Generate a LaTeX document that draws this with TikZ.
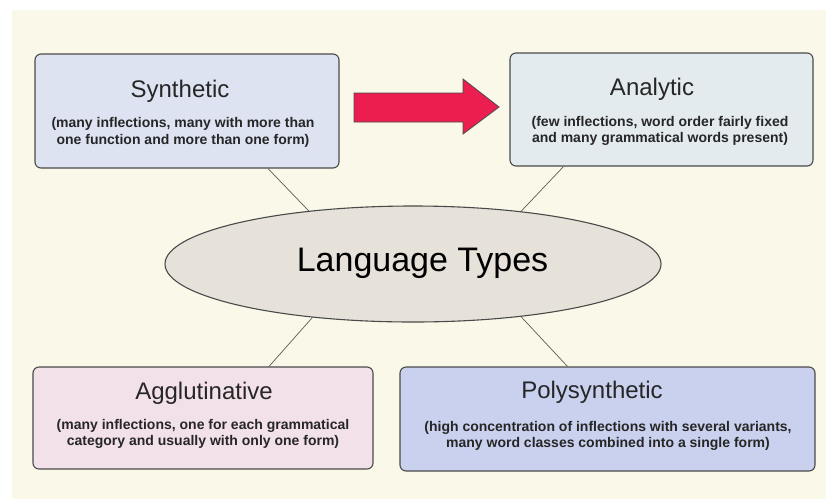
\documentclass[tikz,border=0pt]{standalone}
\usepackage{fontspec}
\setmainfont{Liberation Sans}
\usetikzlibrary{shapes.geometric}
\definecolor{bgcream}{HTML}{FAF8E8}
\definecolor{synfill}{HTML}{DDE3F1}
\definecolor{anafill}{HTML}{E3EBEE}
\definecolor{aggfill}{HTML}{F3E1EA}
\definecolor{polyfill}{HTML}{C9D1EE}
\definecolor{ellfill}{HTML}{E6E1D9}
\definecolor{arrowred}{HTML}{EC1E50}
\definecolor{edge}{HTML}{4A4A4A}
\tikzset{
  typebox/.style={draw=edge, line width=1.1pt, rounded corners=6pt, inner sep=0pt},
  typetitle/.style={font=\fontsize{24}{28}\selectfont, text=black!85, inner sep=0pt},
  typenote/.style={font=\bfseries\fontsize{14}{16.5}\selectfont, text=black!85, align=center, inner sep=0pt},
  link/.style={draw=edge!90, line width=0.7pt}
}
\begin{document}
\begin{tikzpicture}[x=1pt,y=-1pt]
\useasboundingbox (0,0) rectangle (826,499);
\fill[white] (0,0) rectangle (826,499);
\fill[bgcream] (12,10) rectangle (826,499);

% the four language types
\node[typebox, fill=synfill, minimum width=304pt, minimum height=114pt] (syn) at (187,111) {};
\node[typebox, fill=anafill, minimum width=303pt, minimum height=113pt] (ana) at (661.5,109.5) {};
\node[typebox, fill=aggfill, minimum width=340pt, minimum height=102pt] (agg) at (203,418) {};
\node[typebox, fill=polyfill, minimum width=415pt, minimum height=104pt] (poly) at (607.5,419) {};

\node[typetitle] (synT) at (180,91) {Synthetic};
\node[typenote] (synN) at (183,132.5) {(many inflections, many with more than\\one function and more than one form)};
\node[typetitle] (anaT) at (652,89) {Analytic};
\node[typenote] (anaN) at (660,131) {(few inflections, word order fairly fixed\\and many grammatical words present)};
\node[typetitle] (aggT) at (204,393) {Agglutinative};
\node[typenote] (aggN) at (203,434) {(many inflections, one for each grammatical\\category and usually with only one form)};
\node[typetitle] (polyT) at (592,392.5) {Polysynthetic};
\node[typenote] (polyN) at (608,436) {(high concentration of inflections with several variants,\\many word classes combined into a single form)};

% central ellipse and its label
\node[ellipse, draw=edge, line width=1.1pt, fill=ellfill, minimum width=496pt, minimum height=116pt, inner sep=0pt] (lt) at (413,264) {};
\node[inner sep=0pt, font=\fontsize{34}{40}\selectfont] (ltT) at (422.5,263.5) {Language Types};

% connectors
\draw[link] ([xshift=81pt]syn.south) -- (lt.153);
\draw[link] ([xshift=-98pt]ana.south) -- (lt.26);
\draw[link] ([xshift=66pt]agg.north) -- (lt.208);
\draw[link] ([xshift=-40pt]poly.north) -- (lt.334);

% red block arrow from Synthetic to Analytic
\filldraw[fill=arrowred, draw=black!70, line width=0.8pt]
  (354,93) -- (463,93) -- (463,79) -- (499,107) -- (463,134) -- (463,122) -- (354,122) -- cycle;
\end{tikzpicture}
\end{document}
